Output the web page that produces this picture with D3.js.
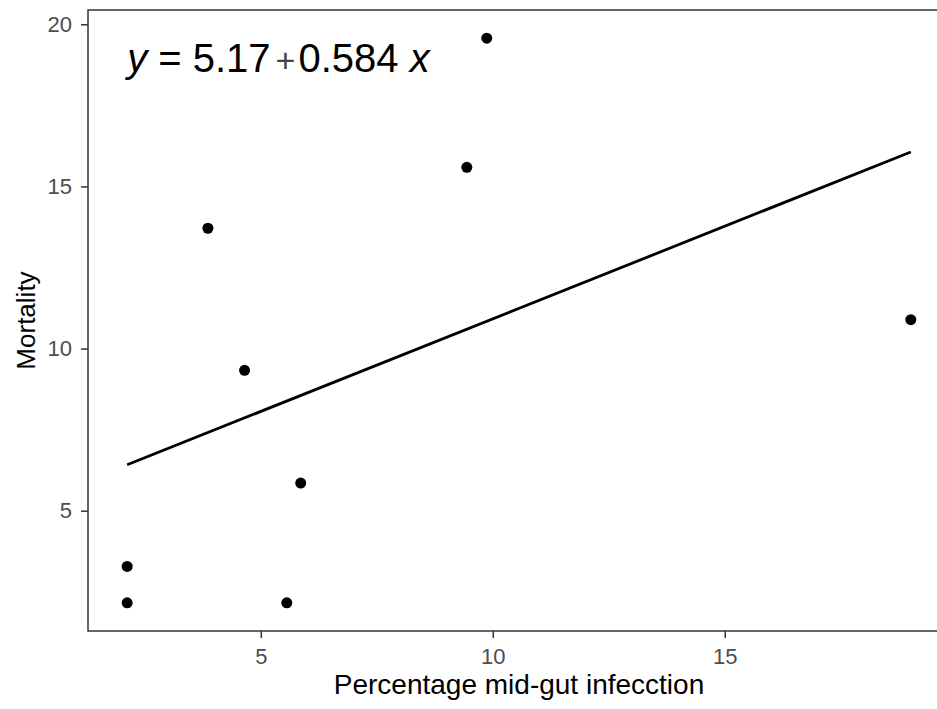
<!DOCTYPE html>
<html>
<head>
<meta charset="utf-8">
<script src="https://cdn.jsdelivr.net/npm/d3@7"></script>
<style>
  body { margin: 0; background: #fff; }
  text { font-family: "Liberation Sans", Arial, sans-serif; }
</style>
</head>
<body>
<div id="vis"></div>
<script>
// values
const infection = [2.12, 2.12, 5.56, 5.86, 3.86, 4.65, 9.87, 9.44, 19.01];
const mortality = [3.28, 2.16, 2.16, 5.85, 13.71, 9.33, 19.57, 15.59, 10.89];
const xTicks = [5, 10, 15];
const yTicks = [5, 10, 15, 20];
const eqLabel = ["y", " = 5.17", "+", "0.584 ", "x"];

let margin = { top: 10, left: 88, right: -13, bottom: 78 },
  width = 937 - margin.left - margin.right,
  height = 709 - margin.top - margin.bottom;

const svg = d3.select("#vis")
  .append("svg")
    .attr("width", 937)
    .attr("height", 709)
  .append("g")
    .attr("transform", `translate(${margin.left},${margin.top})`);

// ggplot style 5% expansion
const expand = (ext) => {
  const pad = (ext[1] - ext[0]) * 0.05;
  return [ext[0] - pad, ext[1] + pad];
};

const x = d3.scaleLinear()
  .domain(expand(d3.extent(infection)))
  .range([0, width]);

const y = d3.scaleLinear()
  .domain(expand(d3.extent(mortality)))
  .range([height, 0]);

const data = infection.map((v, i) => ({ x: v, y: mortality[i] }));

// least squares fit for the line
const mx = d3.mean(infection), my = d3.mean(mortality);
const slope = d3.sum(data, d => (d.x - mx) * (d.y - my)) / d3.sum(data, d => (d.x - mx) ** 2);
const intercept = my - slope * mx;
const xr = d3.extent(infection);
const fit = xr.map(v => ({ x: v, y: intercept + slope * v }));

// axes
const xAxis = svg.append("g")
  .attr("transform", `translate(0, ${height})`)
  .call(d3.axisBottom(x).tickValues(xTicks).tickSize(7).tickPadding(10));
const yAxis = svg.append("g")
  .call(d3.axisLeft(y).tickValues(yTicks).tickSize(7).tickPadding(9));

[xAxis, yAxis].forEach(a => {
  a.select(".domain").remove();
  a.selectAll(".tick line").attr("stroke", "#333").attr("stroke-width", 1.5);
  a.selectAll(".tick text")
    .style("font-size", "22px")
    .attr("fill", "#4d4d4d")
    .style("font-family", "'Liberation Sans', Arial, sans-serif");
});

// panel border
svg.append("rect")
  .attr("x", 0)
  .attr("y", 0)
  .attr("width", width)
  .attr("height", height)
  .attr("fill", "none")
  .attr("stroke", "#333")
  .attr("stroke-width", 1.5);

// regression line
svg.append("path")
  .datum(fit)
  .attr("fill", "none")
  .attr("stroke", "black")
  .attr("stroke-width", 2.8)
  .attr("d", d3.line()
    .x(d => x(d.x))
    .y(d => y(d.y)));

// points
svg.selectAll("circle.pt")
  .data(data)
  .join("circle")
    .attr("class", "pt")
    .attr("cx", d => x(d.x))
    .attr("cy", d => y(d.y))
    .attr("r", 5.5)
    .attr("fill", "black");

// equation label
const eq = svg.append("text")
  .attr("x", x(d3.min(infection)))
  .attr("y", 62)
  .style("font-size", "40px")
  .attr("fill", "black");
eq.selectAll("tspan")
  .data(eqLabel)
  .join("tspan")
    .text(d => d)
    .style("font-style", (d, i) => (i === 0 || i === 4) ? "italic" : "normal")
    .style("font-size", (d, i) => i === 2 ? "34px" : null)
    .style("font-weight", (d, i) => i === 2 ? 300 : null)
    .attr("fill", (d, i) => i === 2 ? "#444" : "black")
    .attr("dx", (d, i) => i === 2 ? 5 : (i === 3 ? 3 : 0));

// axis titles
svg.append("text")
  .attr("x", width / 2)
  .attr("y", height + 63)
  .text("Percentage mid-gut infecction")
  .style("font-size", "28px")
  .style("text-anchor", "middle");

svg.append("text")
  .attr("transform", "rotate(-90)")
  .attr("x", -height / 2)
  .attr("y", -53)
  .text("Mortality")
  .style("font-size", "26px")
  .style("text-anchor", "middle");
</script>
</body>
</html>
